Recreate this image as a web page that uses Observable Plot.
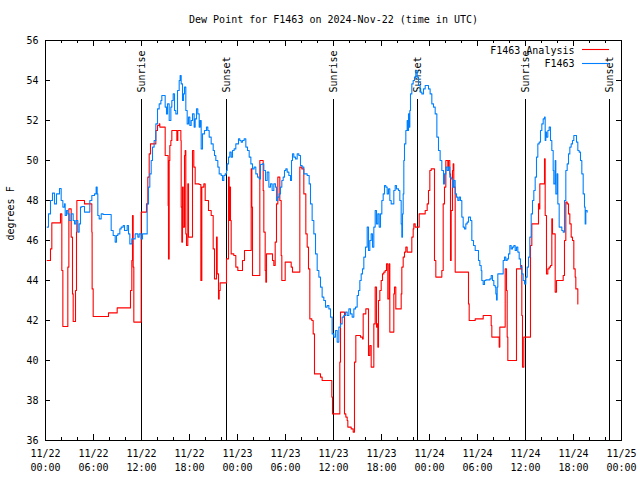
<!DOCTYPE html>
<html><head><meta charset="utf-8">
<script src="https://cdn.jsdelivr.net/npm/d3@7"></script>
<script src="https://cdn.jsdelivr.net/npm/@observablehq/plot@0.6"></script>
<style>body{margin:0;background:#fff;} .crisp{shape-rendering:crispEdges}</style>
</head><body><div id="chart"></div>
<script>
const titleText = "Dew Point for F1463 on 2024-Nov-22 (time in UTC)";
const yLabel = "degrees F";
const seriesNames = ["F1463 Analysis", "F1463"];
const seriesColors = ["#ff0000", "#0080ff"];
const yTicks = [36, 38, 40, 42, 44, 46, 48, 50, 52, 54, 56];
const startUTC = Date.UTC(2024, 10, 22);
const endUTC = Date.UTC(2024, 10, 25);

// hours after 2024-11-22 00:00 UTC
const obsHours = [0.21,0.375,0.625,0.875,1.125,1.375,1.625,1.75,1.96,2.17,2.375,2.46,2.625,2.79,2.96,3.21,3.46,3.625,3.79,4.04,4.21,4.375,4.54,4.79,4.875,5.46,5.54,5.79,6.125,6.33,6.46,6.54,6.71,6.96,7.21,8.04,8.21,8.46,8.71,8.875,9.04,9.29,9.46,9.71,9.875,10.21,10.375,10.54,10.79,11.21,11.54,11.71,11.96,12.125,12.54,12.71,12.875,13.04,13.21,
13.375,13.58,13.79,14.0,14.21,14.42,14.54,14.83,14.96,15.125,15.25,15.46,15.67,15.79,15.96,16.125,16.29,16.5,16.71,16.83,16.96,17.125,17.25,17.375,17.54,17.71,17.875,18.04,18.21,18.375,18.58,18.71,18.875,19.04,19.21,19.33,19.46,19.625,19.875,20.125,20.29,20.46,20.71,20.96,21.125,21.29,21.54,21.71,21.96,22.125,22.29,22.46,22.625,22.71,22.875,23.04,23.21,23.375,23.58,23.79,24.0,24.125,24.29,24.46,24.625,24.83,25.04,25.25,25.46,25.67,25.875,26.08,26.29,26.5,26.71,
26.875,27.08,27.29,27.5,27.71,27.92,28.125,28.33,28.54,28.75,28.875,29.04,29.21,29.375,29.54,29.71,29.875,30.04,30.21,30.42,30.625,30.75,30.875,31.04,31.25,31.46,31.67,31.875,32.08,32.29,32.71,32.96,33.125,33.33,33.54,33.75,33.96,34.17,34.375,34.58,34.79,35.0,35.21,35.42,35.625,35.83,36.04,36.25,36.46,36.67,36.875,37.08,37.29,37.5,37.71,37.92,38.125,38.33,38.54,38.75,38.96,39.125,39.29,39.46,39.625,39.79,40.0,40.21,
40.375,40.54,40.71,40.875,41.04,41.21,41.375,41.54,41.71,41.875,42.04,42.21,42.375,42.54,42.71,42.875,43.04,43.21,43.375,43.54,43.71,43.875,44.125,44.29,44.46,44.54,44.625,44.71,44.79,44.875,45.04,45.21,45.29,45.375,45.46,45.54,45.625,45.79,45.96,46.125,46.29,46.46,46.625,46.83,47.04,47.25,47.46,47.67,47.875,48.08,48.29,48.5,48.71,48.92,49.125,49.33,49.54,49.75,49.875,50.04,50.21,50.375,50.54,50.71,50.875,51.04,51.21,51.375,51.54,51.71,51.875,52.04,52.21,52.375,52.54,52.71,52.875,53.125,53.29,53.5,53.71,
53.875,54.04,54.125,54.29,54.46,54.54,54.71,54.875,55.04,55.54,55.71,55.875,56.04,56.21,56.29,56.375,56.46,56.54,57.04,57.21,57.375,57.54,57.71,57.875,58.04,58.21,58.375,58.54,58.71,58.875,59.04,59.21,59.375,59.54,59.71,59.875,60.04,60.21,60.375,60.54,60.71,60.875,61.04,61.21,61.375,61.54,61.71,61.875,62.04,62.21,62.375,62.46,62.54,62.625,62.79,62.96,63.125,63.29,63.46,63.54,63.71,63.79,63.96,64.04,64.21,64.375,64.54,64.71,64.875,65.04,65.21,65.375,65.54,65.71,65.875,66.04,66.21,66.375,66.54,66.71,66.875,67.04,67.21,67.375,67.46,67.54,67.71];
const obsDew = [46.67,47.33,48.0,48.37,47.83,48.33,48.33,48.6,48.0,47.67,47.83,47.25,47.5,47.33,47.0,47.33,47.0,46.83,47.0,46.42,46.83,47.67,47.7,47.7,47.42,47.42,48.0,48.25,48.33,48.67,48.33,47.25,47.08,47.33,47.3,47.3,46.5,46.25,45.92,46.25,46.33,46.58,46.67,46.75,46.5,46.75,46.33,45.83,46.08,46.33,46.17,46.33,46.08,46.33,46.33,47.83,48.67,49.33,50.0,
50.67,51.0,51.83,52.58,52.83,53.0,53.25,53.25,52.67,52.33,52.83,52.0,52.67,53.0,53.33,52.5,52.33,53.5,54.0,54.25,53.83,53.0,53.33,53.67,52.5,51.83,52.17,51.75,52.0,52.33,51.67,52.08,52.58,52.33,51.67,52.0,50.58,51.33,51.5,51.67,51.5,51.17,50.83,50.5,50.25,50.0,49.67,49.33,49.25,49.0,49.25,49.33,49.5,49.83,50.17,50.42,50.17,50.5,50.58,50.83,50.83,51.08,51.0,50.92,51.0,51.08,50.67,50.5,50.17,49.83,49.58,49.67,49.33,49.17,49.08,
49.8,49.83,49.5,49.0,49.42,48.67,48.83,48.5,48.83,48.67,48.0,48.17,48.33,48.67,49.0,49.17,49.5,49.58,49.42,49.25,49.0,50.0,50.33,50.17,50.08,50.33,50.25,49.75,49.67,49.33,49.25,48.83,47.83,47.0,46.33,45.33,44.5,44.17,43.67,43.17,43.0,42.67,42.75,42.58,42.17,41.33,41.17,41.5,40.92,41.67,41.83,42.17,42.25,42.42,42.25,42.58,42.33,42.17,42.58,42.67,43.25,43.5,44.0,44.33,44.58,45.17,45.67,46.67,
45.5,46.0,46.33,45.67,46.67,47.5,46.83,47.33,46.67,47.33,48.0,48.33,48.75,48.67,48.33,48.58,48.0,47.83,47.83,48.5,48.75,48.58,48.5,48.0,46.83,46.17,47.33,48.33,50.0,50.83,51.5,52.0,51.5,52.33,51.67,52.5,53.33,53.83,54.0,54.17,54.5,54.17,53.75,53.42,53.33,53.58,53.75,53.75,53.58,53.33,52.83,52.67,52.33,51.17,50.5,50.0,49.5,48.83,49.33,49.67,49.5,49.67,49.17,49.08,48.67,49.0,48.33,48.17,48.0,48.17,48.0,47.17,46.67,46.58,46.83,46.92,47.17,47.0,46.0,45.75,45.5,
45.5,45.5,45.0,44.75,44.5,44.0,43.8,44.0,44.03,44.08,44.25,44.0,43.75,43.67,43.33,43.03,43.67,44.33,44.33,45.0,45.17,45.0,45.08,45.33,45.75,45.58,45.67,45.75,45.5,45.67,45.42,45.08,44.67,44.33,44.0,43.83,44.17,44.67,45.17,46.17,47.33,48.0,48.5,49.17,50.17,50.83,50.92,51.5,51.83,52.08,52.17,51.0,51.42,51.17,51.5,51.67,51.0,50.5,49.5,48.83,50.0,48.33,49.33,47.83,46.67,46.67,46.5,46.42,48.0,49.5,49.83,50.33,50.67,50.83,51.0,51.25,51.25,50.92,50.5,50.42,50.0,49.33,48.33,47.67,46.83,47.5,47.42];

const anaHours = [0.21,0.625,0.79,1.875,2.04,2.17,2.79,2.92,3.21,3.375,3.46,3.75,3.875,3.92,4.875,5.79,5.83,5.96,7.875,8.96,10.625,10.79,10.875,10.96,11.04,11.96,12.625,12.79,12.96,13.125,
13.58,13.79,14.0,14.21,14.29,14.83,14.96,15.25,15.33,15.375,15.46,15.54,15.67,15.79,16.375,16.42,16.54,16.875,16.92,16.96,17.04,17.125,17.21,17.375,17.46,17.54,17.625,17.79,17.875,18.29,18.375,18.54,18.71,19.21,19.42,19.54,19.79,19.96,20.375,20.71,20.96,21.125,21.375,21.46,21.625,21.71,21.83,22.625,22.875,22.96,23.04,23.125,23.21,23.54,23.79,24.04,24.625,24.875,25.71,25.79,25.875,26.79,
27.21,27.29,27.46,27.54,27.625,28.375,28.54,28.71,28.875,29.04,29.29,29.46,29.54,29.96,30.71,30.875,31.79,32.04,32.29,32.54,32.71,32.875,33.04,33.29,33.46,33.625,34.375,34.58,35.79,35.875,36.79,36.875,37.375,37.54,37.71,37.79,38.21,38.46,38.625,38.79,39.375,39.625,39.71,40.04,
40.375,40.54,40.71,41.04,41.21,41.375,41.46,41.54,41.625,41.79,41.96,42.125,42.29,42.46,42.625,42.79,42.96,43.04,43.54,43.625,43.79,44.46,44.54,44.71,44.875,45.04,45.21,45.79,45.96,46.04,46.21,46.71,47.46,47.71,47.875,48.04,48.21,48.625,48.79,49.54,49.71,49.875,50.04,50.29,50.375,50.54,50.625,50.71,50.875,50.96,51.04,51.21,52.875,52.96,53.71,
54.71,55.71,55.79,56.71,56.79,57.46,57.625,57.71,57.79,58.875,59.46,59.54,59.625,59.79,60.625,60.79,61.625,61.71,61.79,62.375,62.46,62.625,62.79,62.96,63.125,63.29,63.375,63.71,63.875,64.71,64.875,65.04,65.21,65.375,65.54,65.71,65.875,66.04,66.21,66.29,66.54];
const anaDew = [45.0,45.58,46.88,47.33,44.5,41.7,44.67,47.58,46.17,43.33,41.95,43.5,46.42,48.0,47.83,46.42,43.58,42.2,42.38,42.63,43.5,45.0,47.25,44.67,41.92,47.42,47.83,49.17,50.33,50.83,
50.83,51.5,51.75,51.83,51.67,51.67,50.25,50.25,47.75,45.08,50.0,50.75,51.0,51.5,51.5,51.0,51.5,51.5,51.0,47.67,45.92,48.67,46.67,50.25,50.5,46.33,45.75,48.83,46.17,46.17,50.5,49.67,48.83,48.8,44.0,48.67,48.83,48.0,47.5,47.25,45.58,44.08,46.17,44.33,43.08,43.5,43.88,45.08,49.17,47.0,48.67,47.0,45.33,45.25,44.67,44.5,45.0,45.5,49.58,47.67,44.25,50.0,
48.5,46.42,44.5,43.92,45.33,45.0,44.75,45.92,47.83,49.17,48.0,45.25,44.0,44.92,44.67,44.42,49.67,49.58,48.33,46.33,45.67,44.58,42.08,42.0,41.33,39.33,39.17,39.0,38.17,37.33,39.92,42.42,37.33,37.17,37.0,36.67,36.58,36.42,39.92,41.25,41.17,41.08,42.33,42.58,
40.25,40.75,39.67,41.83,43.67,41.67,41.83,40.67,43.0,43.5,44.0,44.33,44.42,44.5,44.83,43.08,44.83,41.42,43.33,43.67,42.58,43.33,44.67,45.17,45.42,45.67,45.42,46.17,46.58,46.83,46.67,47.33,47.5,47.83,48.5,49.5,49.58,45.0,44.17,44.5,47.83,48.67,50.0,49.67,50.0,49.33,45.0,47.5,49.5,49.83,48.67,44.42,42.83,42.0,42.08,
42.25,41.75,41.17,40.67,41.67,44.58,43.5,41.17,40.0,44.58,44.75,42.25,39.67,41.17,45.75,46.83,47.83,47.58,48.83,50.08,47.25,44.33,44.58,44.67,44.75,47.08,46.33,43.42,44.0,44.25,46.0,47.92,47.83,47.33,46.83,46.17,46.0,44.58,44.17,43.58,42.83,42.83];

const sunHours = [12.04, 22.62, 36.02, 46.53, 60.03, 70.53];
const sunLabels = ["Sunrise", "Sunset", "Sunrise", "Sunset", "Sunrise", "Sunset"];

const toDate = h => new Date(startUTC + h * 3600000);
const obs = obsHours.map((h, i) => ({t: toDate(h), v: obsDew[i]}));
const ana = anaHours.map((h, i) => ({t: toDate(h), v: anaDew[i]}));
const sun = sunHours.map((h, i) => ({t: toDate(h), label: sunLabels[i]}));

const W = 640, H = 480, mL = 45, mR = 19, mT = 40, mB = 40;
const innerW = W - mL - mR, innerH = H - mT - mB;
const xMajor = d3.utcHour.every(6).range(new Date(startUTC), new Date(endUTC + 1));
const xMinor = d3.utcHour.every(2).range(new Date(startUTC), new Date(endUTC + 1));
const fmtDay = d3.utcFormat("%m/%d"), fmtHour = d3.utcFormat("%H:%M");

const chart = Plot.plot({
  width: W, height: H,
  marginLeft: mL, marginRight: mR, marginTop: mT, marginBottom: mB,
  style: {fontFamily: "'DejaVu Sans Mono', monospace", fontSize: "10px", color: "black", background: "white", overflow: "visible"},
  x: {type: "utc", domain: [new Date(startUTC), new Date(endUTC)], axis: null},
  y: {domain: [yTicks[0], yTicks[yTicks.length - 1]], axis: null},
  marks: [
    Plot.ruleX(sun, {x: "t", insetTop: 59, stroke: "black", className: "crisp"}),
    Plot.text(sun, {x: "t", text: "label", frameAnchor: "top", lineAnchor: "middle", rotate: -90, textAnchor: "start", dy: 52, fill: "black"}),
    Plot.line(ana, {x: "t", y: "v", stroke: seriesColors[0], curve: "step-after", strokeWidth: 1.1}),
    Plot.line(obs, {x: "t", y: "v", stroke: seriesColors[1], curve: "step-after", strokeWidth: 1.1}),
    Plot.frame({stroke: "black", className: "crisp"}),
    Plot.ruleY(yTicks, {insetRight: innerW - 5, stroke: "black", className: "crisp"}),
    Plot.ruleY(yTicks, {insetLeft: innerW - 5, stroke: "black", className: "crisp"}),
    Plot.ruleX(xMinor, {insetTop: innerH - 3, stroke: "black", className: "crisp"}),
    Plot.ruleX(xMinor, {insetBottom: innerH - 3, stroke: "black", className: "crisp"}),
    Plot.ruleX(xMajor, {insetTop: innerH - 6, stroke: "black", className: "crisp"}),
    Plot.ruleX(xMajor, {insetBottom: innerH - 6, stroke: "black", className: "crisp"}),
    Plot.text(yTicks, {y: d => d, frameAnchor: "left", lineAnchor: "middle", textAnchor: "end", dx: -7, text: d => String(d), fill: "black"}),
    Plot.text(xMajor, {x: d => d, frameAnchor: "bottom", lineAnchor: "top", dy: 7, lineHeight: 1.4, text: d => fmtDay(d) + "\n" + fmtHour(d), fill: "black"}),
    Plot.text([titleText], {frameAnchor: "top", lineAnchor: "middle", dy: -21, text: d => d, fill: "black"}),
    Plot.text([yLabel], {frameAnchor: "left", lineAnchor: "middle", rotate: -90, dx: -35, text: d => d, fill: "black"}),
    Plot.text([seriesNames[0]], {frameAnchor: "top-right", lineAnchor: "middle", textAnchor: "end", dx: -47, dy: 10, text: d => d, fill: "black"}),
    Plot.text([seriesNames[1]], {frameAnchor: "top-right", lineAnchor: "middle", textAnchor: "end", dx: -47, dy: 23, text: d => d, fill: "black"}),
    Plot.ruleY([yTicks[yTicks.length - 1]], {insetLeft: 537, insetRight: 12, dy: 9, stroke: seriesColors[0], strokeWidth: 1.1}),
    Plot.ruleY([yTicks[yTicks.length - 1]], {insetLeft: 537, insetRight: 12, dy: 23, stroke: seriesColors[1], strokeWidth: 1.1})
  ]
});
document.getElementById("chart").appendChild(chart);
</script>
</body></html>
